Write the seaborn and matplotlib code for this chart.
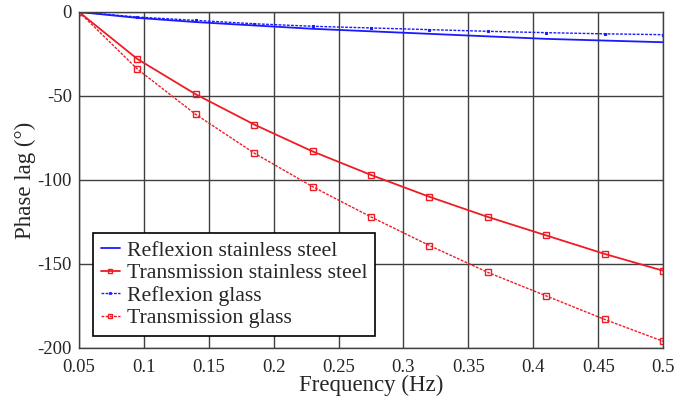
import numpy as np
import pandas as pd
import matplotlib
matplotlib.use("Agg")
import matplotlib.pyplot as plt
import seaborn as sns

freq = [0.05, 0.095, 0.14, 0.185, 0.23, 0.275, 0.32, 0.365, 0.41, 0.455, 0.5]
refl_steel = [0, -3.5, -6, -8, -10, -11.5, -13, -14.5, -16, -17, -18]
trans_steel = [0, -28, -49, -67, -83, -97, -110, -122, -133, -144, -154]
refl_glass = [0, -3, -5, -7, -8.5, -9.5, -10.5, -11.5, -12.3, -13, -13.5]
trans_glass = [0, -34, -61, -84, -104, -122, -139, -155, -169, -183, -196]

labels = ["Reflexion stainless steel", "Transmission stainless steel",
          "Reflexion glass", "Transmission glass"]
series = [refl_steel, trans_steel, refl_glass, trans_glass]

sns.set_style("white")
plt.rcParams['font.family'] = ['Liberation Serif', 'DejaVu Serif']

fig = plt.figure(figsize=(6.9, 4.0), dpi=100)
ax = fig.add_axes([0.1145, 0.13, 0.8465, 0.84])

styles = [
    dict(color="#1a1aff", linestyle="-", marker=None, lw=1.3),
    dict(color="#ee1c24", linestyle="-", marker="s", lw=1.3, ms=4, mfc="none", mew=1.0),
    dict(color="#1a1aff", linestyle=(0, (2, 1)), marker="s", lw=1.0, ms=2, mew=0.8),
    dict(color="#ee1c24", linestyle=(0, (2, 1)), marker="s", lw=1.0, ms=4, mfc="none", mew=1.0),
]

for lab, vals, st in zip(labels, series, styles):
    df = pd.DataFrame({"f": freq, "v": vals})
    kw = dict(color=st["color"], linestyle=st["linestyle"], linewidth=st["lw"])
    if st["marker"]:
        kw.update(marker=st["marker"], markersize=st["ms"], markeredgewidth=st["mew"],
                  markeredgecolor=st["color"])
        if "mfc" in st:
            kw["markerfacecolor"] = st["mfc"]
        else:
            kw["markerfacecolor"] = st["color"]
    sns.lineplot(data=df, x="f", y="v", ax=ax, label=lab, **kw)

ax.set_xlim(0.05, 0.5)
ax.set_ylim(-200, 0)
ax.set_xticks(np.arange(0.05, 0.501, 0.05))
ax.set_xticklabels(["0.05", "0.1", "0.15", "0.2", "0.25", "0.3", "0.35", "0.4", "0.45", "0.5"])
ax.set_yticks([-200, -150, -100, -50, 0])
ax.set_yticklabels(["-200", "-150", "-100", "-50", "0"])
ax.grid(True, color="#404040", linewidth=1.0)
ax.set_axisbelow(True)
for s in ax.spines.values():
    s.set_color("#404040")
    s.set_linewidth(1.0)
ax.tick_params(axis="x", labelsize=13.5, length=0, pad=8)
ax.tick_params(axis="y", labelsize=13.5, length=0, pad=5)
ax.set_xlabel("Frequency (Hz)", fontsize=16.5, labelpad=-1)
ax.set_ylabel("Phase lag (°)", fontsize=16.5, labelpad=1)

leg = ax.legend(loc="lower left", bbox_to_anchor=(0.024, 0.036), fontsize=15.7,
                frameon=True, fancybox=False, edgecolor="black", framealpha=1,
                handlelength=0.9, handletextpad=0.3, borderpad=0.35, labelspacing=0.1,
                borderaxespad=0, markerscale=0.6)
leg.get_frame().set_linewidth(1.2)

fig.savefig("out.png", dpi=100)
